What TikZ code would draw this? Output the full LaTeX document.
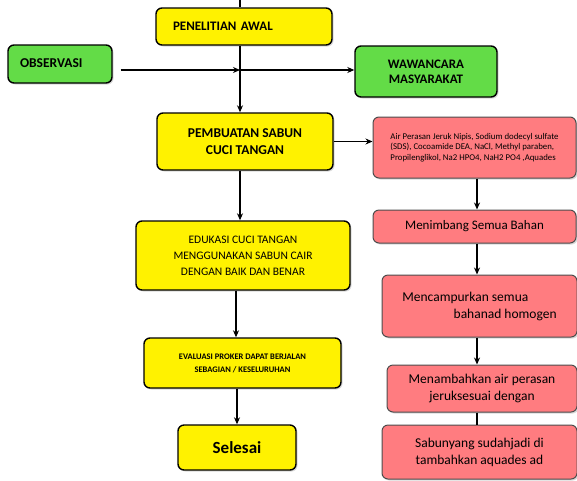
\documentclass[tikz,border=0pt]{standalone}
\usepackage{fontspec}
\setmainfont{Carlito}
\usetikzlibrary{arrows.meta,shadows}
\definecolor{hijauobs}{HTML}{63DC47}
\definecolor{merahbox}{HTML}{FF7C80}
\begin{document}
\begin{tikzpicture}[x=1pt,y=-1pt,>={Stealth[length=7pt,width=6pt]},line width=1.3pt,
box/.style={rounded corners=6pt,align=center,inner sep=2pt,drop shadow={shadow xshift=1.5pt,shadow yshift=-1.5pt,opacity=0.3}},
kuning/.style={box,draw=black,fill=yellow,line width=1.4pt},
hijau/.style={box,draw=black,fill=hijauobs,line width=1.4pt},
merah/.style={box,draw=black!70,fill=merahbox,line width=1pt}]
\useasboundingbox (0,0) rectangle (577,480);
% kolom kiri
\node[kuning,minimum width=176pt,minimum height=37pt,text width=142pt,inner xsep=17pt,align=left,font=\bfseries\fontsize{13}{16}\selectfont](pen) at (244,26.5){PENELITIAN AWAL};
\node[hijau,minimum width=104pt,minimum height=38pt,text width=80pt,inner xsep=12pt,align=left,font=\bfseries\fontsize{13.5}{15}\selectfont](obs) at (60,64){\raisebox{2pt}{OBSERVASI}};
\node[hijau,minimum width=142pt,minimum height=51pt,font=\bfseries\fontsize{13}{15}\selectfont](waw) at (426,71.5){WAWANCARA\\MASYARAKAT};
\node[kuning,minimum width=176pt,minimum height=57pt,font=\bfseries\fontsize{13.5}{17}\selectfont](pem) at (245,141.5){PEMBUATAN SABUN\\CUCI TANGAN};
\node[kuning,minimum width=214pt,minimum height=69pt,font=\fontsize{11.5}{16}\selectfont](edu) at (243,255.5){EDUKASI CUCI TANGAN\\MENGGUNAKAN SABUN CAIR\\DENGAN BAIK DAN BENAR};
\node[kuning,minimum width=197pt,minimum height=50pt,font=\bfseries\fontsize{8.5}{13}\selectfont](eva) at (242.5,363){EVALUASI PROKER DAPAT BERJALAN\\SEBAGIAN / KESELURUHAN};
\node[kuning,minimum width=118pt,minimum height=45pt,font=\bfseries\fontsize{17}{20}\selectfont](sel) at (237,447.5){Selesai};
% kolom kanan
\node[merah,minimum width=203pt,minimum height=61pt,font=\fontsize{8.8}{10.5}\selectfont,align=left](bhn) at (474.5,147.5){Air Perasan Jeruk Nipis, Sodium dodecyl sulfate\\(SDS), Cocoamide DEA, NaCl, Methyl paraben,\\Propilenglikol, Na2 HPO4, NaH2 PO4 ,Aquades};
\node[merah,minimum width=203pt,minimum height=33pt,font=\fontsize{13}{15}\selectfont](tim) at (474.5,226.5){Menimbang Semua Bahan};
\node[merah,minimum width=195pt,minimum height=62pt,font=\fontsize{13.5}{17}\selectfont,align=left](cam) at (479.5,306){Mencampurkan semua\\\hspace*{3.8em}bahanad homogen};
\node[merah,minimum width=190pt,minimum height=47pt,font=\fontsize{13.5}{17}\selectfont](tam) at (482,388.5){Menambahkan air perasan\\jeruksesuai dengan};
\node[merah,minimum width=195pt,minimum height=54pt,font=\fontsize{13.5}{17}\selectfont](sab) at (479.5,452){Sabunyang sudahjadi di\\tambahkan aquades ad};
% penghubung
\coordinate(atas) at (240,0);
\coordinate(jn) at (240,70);
\coordinate(kiri) at (236,0);
\coordinate(kanan) at (477,0);
\draw(atas)--(atas |- pen.north);\draw[->](jn |- pen.south)--(jn |- pem.north);
\draw[->]([xshift=8pt]obs.east |- jn)--(jn);\draw[->](jn)--(jn -| waw.west);
\draw[->](pem.east)--(bhn.west |- pem.east);
\draw[->](pem.south -| jn)--(edu.north -| jn);
\draw[->](edu.south -| kiri)--(eva.north -| kiri);
\draw[->](eva.south -| sel.north)--(sel.north);
\draw[->](bhn.south -| kanan)--(tim.north -| kanan);\draw[->](tim.south -| kanan)--(cam.north -| kanan);
\draw[->](cam.south -| kanan)--(tam.north -| kanan);\draw(tam.south -| kanan)--(sab.north -| kanan);
\end{tikzpicture}
\end{document}
